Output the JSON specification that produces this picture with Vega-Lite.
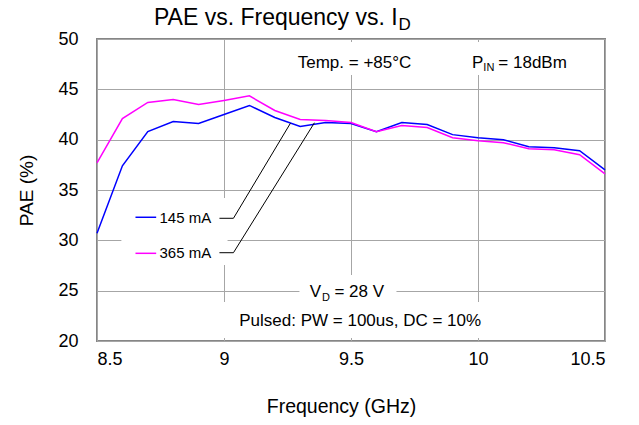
{
  "$schema": "https://vega.github.io/schema/vega-lite/v6.json",
  "width": 508,
  "height": 302,
  "autosize": "none",
  "padding": {"left": 97, "top": 39, "right": 34, "bottom": 84},
  "background": "white",
  "config": {
    "font": "Liberation Sans",
    "view": {"stroke": "#868686", "strokeWidth": 2},
    "axis": {
      "grid": true, "gridColor": "#a6a6a6", "gridWidth": 1, "gridOpacity": 1,
      "domain": false, "ticks": false,
      "labelFont": "Liberation Sans", "labelFontSize": 18, "labelColor": "#000000",
      "titleFont": "Liberation Sans", "titleFontSize": 19, "titleFontWeight": "normal", "titleColor": "#000000"
    }
  },
  "datasets": {
    "pae": [
      {"freq": 8.5, "pae": 30.7, "series": "145 mA"},
      {"freq": 8.6, "pae": 37.4, "series": "145 mA"},
      {"freq": 8.7, "pae": 40.8, "series": "145 mA"},
      {"freq": 8.8, "pae": 41.8, "series": "145 mA"},
      {"freq": 8.9, "pae": 41.6, "series": "145 mA"},
      {"freq": 9.0, "pae": 42.5, "series": "145 mA"},
      {"freq": 9.1, "pae": 43.4, "series": "145 mA"},
      {"freq": 9.2, "pae": 42.2, "series": "145 mA"},
      {"freq": 9.3, "pae": 41.3, "series": "145 mA"},
      {"freq": 9.4, "pae": 41.7, "series": "145 mA"},
      {"freq": 9.5, "pae": 41.6, "series": "145 mA"},
      {"freq": 9.6, "pae": 40.8, "series": "145 mA"},
      {"freq": 9.7, "pae": 41.7, "series": "145 mA"},
      {"freq": 9.8, "pae": 41.5, "series": "145 mA"},
      {"freq": 9.9, "pae": 40.5, "series": "145 mA"},
      {"freq": 10.0, "pae": 40.2, "series": "145 mA"},
      {"freq": 10.1, "pae": 40.0, "series": "145 mA"},
      {"freq": 10.2, "pae": 39.3, "series": "145 mA"},
      {"freq": 10.3, "pae": 39.2, "series": "145 mA"},
      {"freq": 10.4, "pae": 38.9, "series": "145 mA"},
      {"freq": 10.5, "pae": 37.0, "series": "145 mA"},
      {"freq": 8.5, "pae": 37.7, "series": "365 mA"},
      {"freq": 8.6, "pae": 42.1, "series": "365 mA"},
      {"freq": 8.7, "pae": 43.7, "series": "365 mA"},
      {"freq": 8.8, "pae": 44.0, "series": "365 mA"},
      {"freq": 8.9, "pae": 43.5, "series": "365 mA"},
      {"freq": 9.0, "pae": 43.9, "series": "365 mA"},
      {"freq": 9.1, "pae": 44.35, "series": "365 mA"},
      {"freq": 9.2, "pae": 42.9, "series": "365 mA"},
      {"freq": 9.3, "pae": 42.0, "series": "365 mA"},
      {"freq": 9.4, "pae": 41.9, "series": "365 mA"},
      {"freq": 9.5, "pae": 41.7, "series": "365 mA"},
      {"freq": 9.6, "pae": 40.8, "series": "365 mA"},
      {"freq": 9.7, "pae": 41.4, "series": "365 mA"},
      {"freq": 9.8, "pae": 41.2, "series": "365 mA"},
      {"freq": 9.9, "pae": 40.2, "series": "365 mA"},
      {"freq": 10.0, "pae": 39.9, "series": "365 mA"},
      {"freq": 10.1, "pae": 39.7, "series": "365 mA"},
      {"freq": 10.2, "pae": 39.1, "series": "365 mA"},
      {"freq": 10.3, "pae": 39.0, "series": "365 mA"},
      {"freq": 10.4, "pae": 38.5, "series": "365 mA"},
      {"freq": 10.5, "pae": 36.6, "series": "365 mA"}
    ]
  },
  "layer": [
    {
      "data": {"values": [
        {"x": 9.27, "x2": 9.797, "y": 49.7, "y2": 46.42},
        {"x": 9.97, "x2": 10.414, "y": 49.7, "y2": 46.42},
        {"x": 8.596, "x2": 9.014, "y": 34.2, "y2": 27.55},
        {"x": 9.297, "x2": 9.679, "y": 26.56, "y2": 23.87},
        {"x": 8.99, "x2": 10.084, "y": 23.87, "y2": 20.3}
      ]},
      "mark": {"type": "rect", "fill": "white", "stroke": null},
      "encoding": {
        "x": {"field": "x", "type": "quantitative"},
        "x2": {"field": "x2"},
        "y": {"field": "y", "type": "quantitative"},
        "y2": {"field": "y2"}
      }
    },
    {
      "data": {"name": "pae"},
      "mark": {"type": "line", "strokeWidth": 1.5},
      "encoding": {
        "x": {"field": "freq", "type": "quantitative", "title": "Frequency (GHz)",
              "scale": {"domain": [8.5, 10.5], "nice": false, "zero": false},
              "axis": {"values": [8.5, 9, 9.5, 10, 10.5], "format": "~g", "labelPadding": 9, "titlePadding": 29, "titleX": 244, "titleFontSize": 19.5}},
        "y": {"field": "pae", "type": "quantitative", "title": "PAE (%)",
              "scale": {"domain": [20, 50], "nice": false, "zero": false},
              "axis": {"values": [20, 25, 30, 35, 40, 45, 50], "labelPadding": 19, "titlePadding": 21}},
        "color": {"field": "series", "type": "nominal", "legend": null,
                  "scale": {"domain": ["145 mA", "365 mA"], "range": ["#0000ff", "#ff00ff"]}}
      }
    },
    {
      "data": {"values": [
        {"series": "145 mA", "x": 8.6515, "x2": 8.733, "y": 32.29},
        {"series": "365 mA", "x": 8.6515, "x2": 8.733, "y": 28.71}
      ]},
      "mark": {"type": "rule", "strokeWidth": 1.5},
      "encoding": {
        "x": {"field": "x", "type": "quantitative"},
        "x2": {"field": "x2"},
        "y": {"field": "y", "type": "quantitative"},
        "color": {"field": "series", "type": "nominal", "legend": null}
      }
    },
    {
      "data": {"values": [
        {"id": 1, "s": 1, "x": 8.9821, "y": 32.19},
        {"id": 1, "s": 2, "x": 9.0372, "y": 32.19},
        {"id": 1, "s": 3, "x": 9.2615, "y": 41.63},
        {"id": 2, "s": 1, "x": 8.9821, "y": 28.77},
        {"id": 2, "s": 2, "x": 9.0372, "y": 28.77},
        {"id": 2, "s": 3, "x": 9.356, "y": 41.68}
      ]},
      "mark": {"type": "line", "color": "#000000", "strokeWidth": 1},
      "encoding": {
        "x": {"field": "x", "type": "quantitative"},
        "y": {"field": "y", "type": "quantitative"},
        "detail": {"field": "id", "type": "nominal"},
        "order": {"field": "s", "type": "quantitative"}
      }
    },
    {
      "data": {"values": [
        {"text": "Temp. = +85°C", "x": 9.2902, "y": 47.09},
        {"text": "= 18dBm", "x": 10.08, "y": 47.09},
        {"text": "= 28 V", "x": 9.4347, "y": 24.4}
      ]},
      "mark": {"type": "text", "align": "left", "baseline": "alphabetic", "fontSize": 17, "color": "#000000"},
      "encoding": {
        "x": {"field": "x", "type": "quantitative"},
        "y": {"field": "y", "type": "quantitative"},
        "text": {"field": "text"}
      }
    },
    {
      "data": {"values": [
        {"text": "P", "x": 10.0211, "y": 47.09},
        {"text": "V", "x": 9.3823, "y": 24.4}
      ]},
      "mark": {"type": "text", "align": "right", "baseline": "alphabetic", "fontSize": 17, "color": "#000000"},
      "encoding": {
        "x": {"field": "x", "type": "quantitative"},
        "y": {"field": "y", "type": "quantitative"},
        "text": {"field": "text"}
      }
    },
    {
      "data": {"values": [
        {"text": "IN", "x": 10.0211, "y": 46.82},
        {"text": "D", "x": 9.3855, "y": 24.02}
      ]},
      "mark": {"type": "text", "align": "left", "baseline": "alphabetic", "fontSize": 11, "color": "#000000"},
      "encoding": {
        "x": {"field": "x", "type": "quantitative"},
        "y": {"field": "y", "type": "quantitative"},
        "text": {"field": "text"}
      }
    },
    {
      "data": {"values": [
        {"text": "Pulsed: PW = 100us, DC = 10%", "x": 9.5362, "y": 21.52}
      ]},
      "mark": {"type": "text", "align": "center", "baseline": "alphabetic", "fontSize": 17, "color": "#000000"},
      "encoding": {
        "x": {"field": "x", "type": "quantitative"},
        "y": {"field": "y", "type": "quantitative"},
        "text": {"field": "text"}
      }
    },
    {
      "data": {"values": [
        {"text": "145 mA", "x": 8.746, "y": 31.75},
        {"text": "365 mA", "x": 8.746, "y": 28.27}
      ]},
      "mark": {"type": "text", "align": "left", "baseline": "alphabetic", "fontSize": 15, "color": "#000000"},
      "encoding": {
        "x": {"field": "x", "type": "quantitative"},
        "y": {"field": "y", "type": "quantitative"},
        "text": {"field": "text"}
      }
    },
    {
      "data": {"values": [
        {"text": "PAE vs. Frequency vs. I", "x": 9.6838, "y": 51.39}
      ]},
      "mark": {"type": "text", "align": "right", "baseline": "alphabetic", "fontSize": 23, "color": "#000000"},
      "encoding": {
        "x": {"field": "x", "type": "quantitative"},
        "y": {"field": "y", "type": "quantitative"},
        "text": {"field": "text"}
      }
    },
    {
      "data": {"values": [
        {"text": "D", "x": 9.6868, "y": 50.89}
      ]},
      "mark": {"type": "text", "align": "left", "baseline": "alphabetic", "fontSize": 17, "color": "#000000"},
      "encoding": {
        "x": {"field": "x", "type": "quantitative"},
        "y": {"field": "y", "type": "quantitative"},
        "text": {"field": "text"}
      }
    }
  ]
}
